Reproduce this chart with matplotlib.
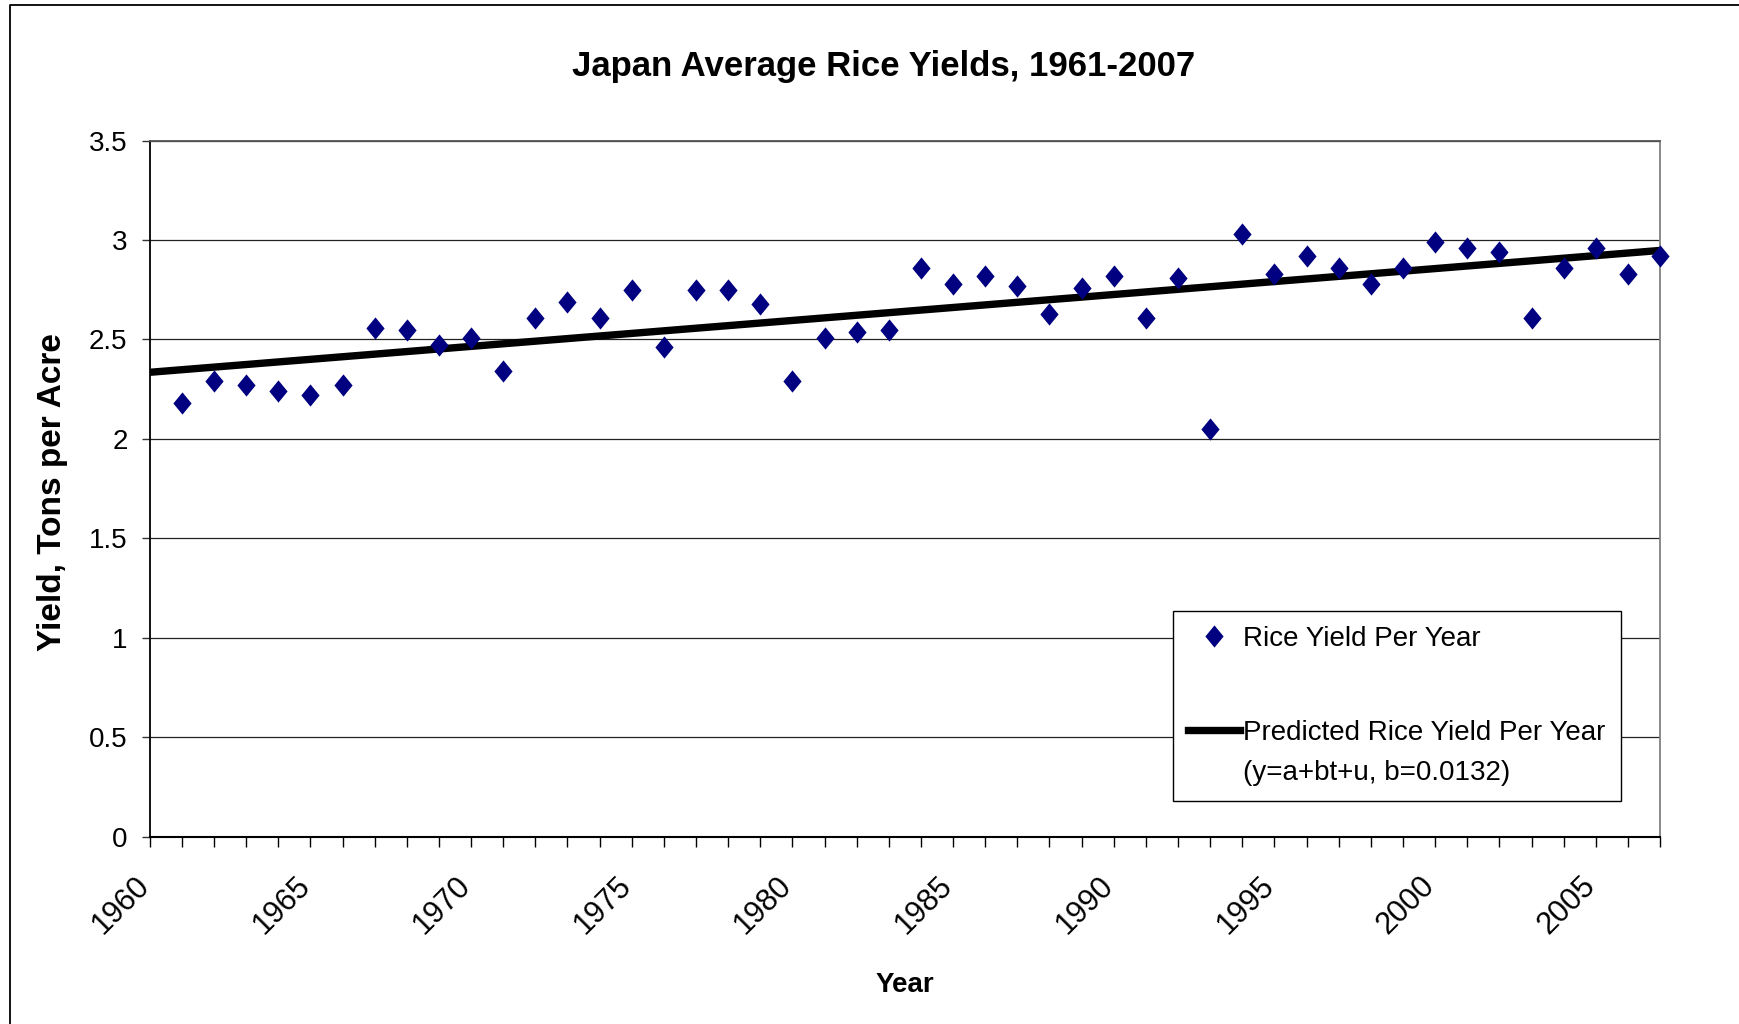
# Japan average rice yields 1961-2007, with linear trend line

import matplotlib
matplotlib.use("Agg")
import matplotlib.pyplot as plt
import matplotlib.transforms as mtransforms
from matplotlib.lines import Line2D

years = list(range(1961, 2008))
yields = [2.18, 2.29, 2.27, 2.24, 2.22, 2.27, 2.56, 2.55, 2.47, 2.51,
          2.34, 2.61, 2.69, 2.61, 2.75, 2.46, 2.75, 2.75, 2.68, 2.29,
          2.51, 2.54, 2.55, 2.86, 2.78, 2.82, 2.77, 2.63, 2.76, 2.82,
          2.61, 2.81, 2.05, 3.03, 2.83, 2.92, 2.86, 2.78, 2.86, 2.99,
          2.96, 2.94, 2.61, 2.86, 2.96, 2.83, 2.92]

# predicted yields (y=a+bt+u), endpoints of the fitted line
trend_years = [1960, 2007]
trend_values = [2.335, 2.948]

x_ticks = [1960, 1965, 1970, 1975, 1980, 1985, 1990, 1995, 2000, 2005]
x_labels = ["1960", "1965", "1970", "1975", "1980", "1985", "1990", "1995", "2000", "2005"]
y_ticks = [0, 0.5, 1, 1.5, 2, 2.5, 3, 3.5]
y_labels = ["0", "0.5", "1", "1.5", "2", "2.5", "3", "3.5"]

navy = "#000080"
font = "Liberation Sans"
plt.rcParams["font.family"] = [font, "DejaVu Sans"]

fig = plt.figure(figsize=(17.39, 10.24), dpi=100)
ax = fig.add_axes([0.0861, 0.1831, 0.8685, 0.6795])

# gridlines
ax.set_axisbelow(True)
ax.yaxis.grid(True, color="#222222", lw=0.9)

# trend line and points
ax.plot(trend_years, trend_values, color="black", lw=5.3, solid_capstyle="butt",
        zorder=3, label="Predicted Rice Yield Per Year")
diamond = [(0, 1), (0.82, 0), (0, -1), (-0.82, 0), (0, 1)]
ax.plot(years, yields, ls="none", marker=diamond, ms=16, color=navy, mew=0,
        clip_on=False, zorder=4, label="Rice Yield Per Year")

ax.set_xlim(1960, 2007)
ax.set_ylim(0, 3.5)

# axis ticks
ax.set_xticks(x_ticks)
ax.set_xticks(years, minor=True)
ax.set_xticklabels(x_labels, rotation=45, ha="right", va="center",
                   rotation_mode="anchor", fontsize=22)
ax.tick_params(axis="x", which="both", direction="out", length=7.2, width=1.0,
               color="black", pad=25)
ax.set_yticks(y_ticks)
ax.set_yticklabels(y_labels, fontsize=20)
ax.tick_params(axis="y", direction="out", length=6, width=1.0, color="#333333", pad=10)

# nudge the rotated year labels left like excel does
shift = mtransforms.ScaledTranslation(-5 / 100, 0, fig.dpi_scale_trans)
for lbl in ax.get_xticklabels():
    lbl.set_transform(lbl.get_transform() + shift)

ax.spines["left"].set_color("black")
ax.spines["left"].set_linewidth(1.3)
ax.spines["bottom"].set_color("black")
ax.spines["bottom"].set_linewidth(1.5)
ax.spines["top"].set_color("#555555")
ax.spines["top"].set_linewidth(1.3)
ax.spines["right"].set_color("#808080")
ax.spines["right"].set_linewidth(1.3)

# legend: second label runs over two lines, handle sits on the first one
h_pts = Line2D([], [], ls="none", marker=diamond, ms=16, color=navy, mew=0)
h_gap = Line2D([], [], ls="none")
h_line = Line2D([], [], color="black", lw=5.3)
h_none = Line2D([], [], ls="none")
leg = ax.legend([h_pts, h_gap, h_line, h_none],
                ["Rice Yield Per Year", " ", "Predicted Rice Yield Per Year",
                 "(y=a+bt+u, b=0.0132)"],
                loc="upper left", bbox_to_anchor=(0.6775, 0.3245), borderaxespad=0,
                fontsize=20, frameon=True, fancybox=False, framealpha=1,
                edgecolor="black", handlelength=1.85, handletextpad=0.12,
                labelspacing=0.5, borderpad=0.55)
leg.get_frame().set_linewidth(1.0)
leg.get_texts()[1].set_fontsize(30)
leg.set_zorder(5)

# titles
fig.text(0.5078, 0.935, "Japan Average Rice Yields, 1961-2007", fontsize=25,
         fontweight="bold", ha="center", va="center")
fig.text(0.030, 0.519, "Yield, Tons per Acre", fontsize=24, fontweight="bold",
         rotation=90, ha="center", va="center")
fig.text(0.5204, 0.0377, "Year", fontsize=20, fontweight="bold", ha="center", va="center")

# outer chart border (left and top edges)
fig.add_artist(Line2D([0.00575, 0.00575, 1.0], [0.0, 0.9951, 0.9951],
                      transform=fig.transFigure, color="black", lw=1.3))

plt.savefig("out.png", dpi=100)
